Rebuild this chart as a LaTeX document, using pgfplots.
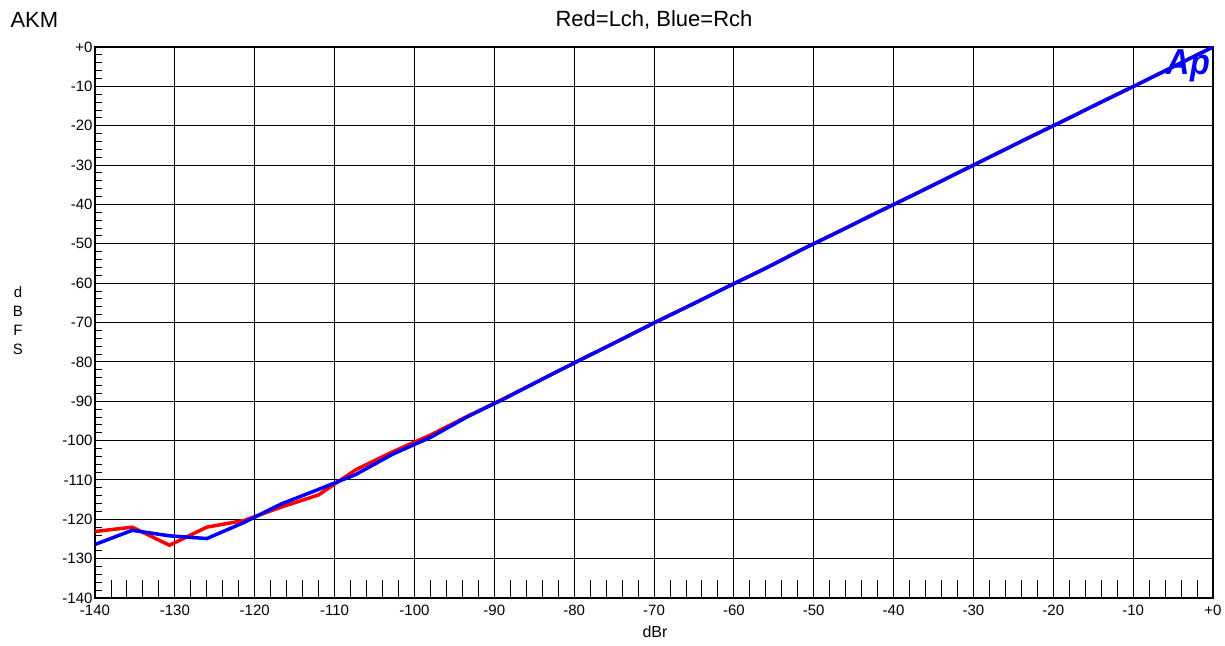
\documentclass[border=0pt]{standalone}
\usepackage{pgfplots}
\pgfplotsset{compat=1.18}
\usepackage{fontspec}
\setmainfont{Liberation Sans}
\pgfplotstableread{
x y
-140 -123.1
-135.33 -122.0
-130.67 -126.6
-126 -122.0
-121.33 -120.3
-116.67 -116.9
-112 -113.8
-107.33 -107.4
-102.67 -102.8
-98 -98.6
-93.33 -93.8
-88.67 -89.2
-84 -84.4
-79.33 -79.6
-74.67 -74.9
-70 -70.1
-65.33 -65.5
-60.67 -60.8
-56 -56.2
-51.33 -51.3
-46.67 -46.7
-42 -42.0
-37.33 -37.4
-32.67 -32.7
-28 -28.0
-23.33 -23.3
-18.67 -18.7
-14 -14.0
-9.33 -9.4
-4.67 -4.7
0 0
}\leftch
\pgfplotstableread{
x y
-140 -126.4
-135.33 -122.8
-130.67 -124.2
-126 -124.9
-121.33 -120.8
-116.67 -116.1
-112 -112.4
-107.33 -108.6
-102.67 -103.4
-98 -99.2
-93.33 -93.9
-88.67 -89.3
-84 -84.4
-79.33 -79.6
-74.67 -74.9
-70 -70.1
-65.33 -65.5
-60.67 -60.8
-56 -56.2
-51.33 -51.3
-46.67 -46.7
-42 -42.0
-37.33 -37.4
-32.67 -32.7
-28 -28.0
-23.33 -23.3
-18.67 -18.7
-14 -14.0
-9.33 -9.4
-4.67 -4.7
0 0
}\rightch
\begin{document}
\begin{tikzpicture}[x=1pt,y=1pt]
\path[use as bounding box] (0,0) rectangle (1225,645);
\begin{axis}[
  at={(95pt,47pt)}, anchor=south west, scale only axis,
  width=1118pt, height=551pt,
  xmin=-140, xmax=0, ymin=-140, ymax=0,
  xtick={-140,-130,...,0},
  xticklabels={-140,-130,-120,-110,-100,-90,-80,-70,-60,-50,-40,-30,-20,-10,+0},
  ytick={-140,-130,...,0},
  yticklabels={-140,-130,-120,-110,-100,-90,-80,-70,-60,-50,-40,-30,-20,-10,+0},
  grid=major,
  major grid style={black, line width=0.9pt},
  major tick length=0pt,
  minor y tick num=4,
  minor tick length=7pt,
  minor tick style={black, line width=0.9pt},
  tick align=inside,
  xtick pos=bottom, ytick pos=left,
  tick label style={font=\fontsize{15}{16}\selectfont},
  xticklabel style={yshift=-3pt},
  yticklabel style={xshift=1pt},
  axis line style={black, line width=1.5pt},
]
\addplot[red, line width=3.5pt] table[x=x,y=y] {\leftch};
\addplot[blue, line width=3.5pt] table[x=x,y=y] {\rightch};
\end{axis}
\begin{axis}[
  at={(95pt,47pt)}, anchor=south west, scale only axis,
  width=1118pt, height=551pt,
  xmin=-140, xmax=0, ymin=-140, ymax=0,
  xtick={-140,-130,...,0}, xticklabels={},
  ytick=\empty,
  major tick length=0pt,
  minor x tick num=4,
  minor tick length=18pt,
  minor tick style={black, line width=0.9pt},
  tick align=inside,
  xtick pos=bottom,
  axis line style={draw=none},
]
\end{axis}
\node[anchor=west, font=\fontsize{22}{24}\selectfont] at (7,625) {AKM};
\node[font=\fontsize{22}{24}\selectfont] at (654,625) {Red=Lch, Blue=Rch};
\node[font=\fontsize{16}{17}\selectfont] at (655,13) {dBr};
\node[align=center, font=\fontsize{15}{19}\selectfont] at (18,324) {d\\B\\F\\S};
\node[anchor=north east, inner sep=0pt, text=blue, xscale=0.9,
      font=\fontsize{36}{36}\selectfont\bfseries\itshape] at (1210,595) {Ap};
\end{tikzpicture}
\end{document}
